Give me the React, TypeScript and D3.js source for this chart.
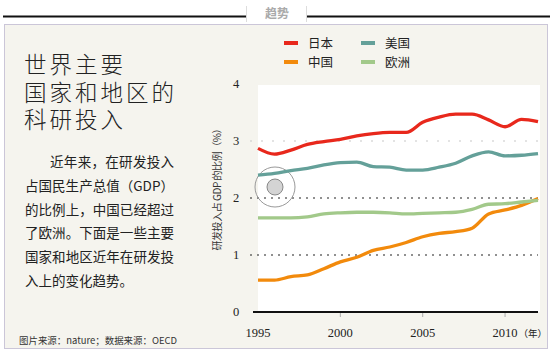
import React from 'react';
import * as d3 from 'd3';

// data
const years = [1995, 1996, 1997, 1998, 1999, 2000, 2001, 2002, 2003, 2004, 2005, 2006, 2007, 2008, 2009, 2010, 2011, 2012];
const japan = [2.87, 2.77, 2.84, 2.94, 2.99, 3.03, 3.09, 3.13, 3.15, 3.15, 3.33, 3.42, 3.47, 3.47, 3.37, 3.25, 3.38, 3.34];
const usa = [2.4, 2.43, 2.48, 2.52, 2.58, 2.62, 2.63, 2.55, 2.54, 2.49, 2.49, 2.54, 2.61, 2.74, 2.81, 2.74, 2.75, 2.78];
const europe = [1.65, 1.65, 1.65, 1.67, 1.72, 1.74, 1.75, 1.75, 1.74, 1.72, 1.73, 1.74, 1.75, 1.8, 1.89, 1.9, 1.93, 1.96];
const china = [0.56, 0.56, 0.62, 0.65, 0.76, 0.88, 0.96, 1.08, 1.14, 1.22, 1.32, 1.38, 1.41, 1.47, 1.72, 1.79, 1.87, 1.99];
const yTicks = [0, 1, 2, 3, 4];
const xTicks = [1995, 2000, 2005, 2010];
const titleLines = ['世界主要', '国家和地区的', '科研投入'];
const bodyLines = ['近年来，在研发投入', '占国民生产总值（GDP）', '的比例上，中国已经超过', '了欧洲。下面是一些主要', '国家和地区近年在研发投', '入上的变化趋势。'];

const series = [
  { name: '日本', values: japan, color: '#e8281c' },
  { name: '美国', values: usa, color: '#64a099' },
  { name: '中国', values: china, color: '#f28a0c' },
  { name: '欧洲', values: europe, color: '#a2c98a' },
];

const CJK = '"Noto Sans CJK SC", sans-serif';
const SERIF = '"Liberation Serif", serif';

export default function App() {
  const x = d3.scaleLinear().domain([1995, 2012]).range([258, 538]);
  const y = d3.scaleLinear().domain([0, 4]).range([312, 84]);
  const line = d3
    .line<number>()
    .x((d, i) => x(years[i]))
    .y((d) => y(d))
    .curve(d3.curveMonotoneX);

  return (
    <svg width={550} height={354} style={{ position: 'absolute', left: 0, top: 0 }}>
      {/* header */}
      <line x1={3} x2={246} y1={16.5} y2={16.5} stroke="#111" strokeWidth={2} />
      <line x1={307} x2={550} y1={16.5} y2={16.5} stroke="#111" strokeWidth={2} />
      <line x1={246.5} x2={246.5} y1={6} y2={22} stroke="#ddd" />
      <line x1={306.5} x2={306.5} y1={6} y2={22} stroke="#ddd" />
      <text x={277} y={18} textAnchor="middle" fontFamily={CJK} fontSize={12} fontWeight="bold" fill="#aaa">
        趋势
      </text>

      {/* box */}
      <rect x={4.5} y={24.5} width={543} height={324} fill="#f5f4ee" stroke="#cbc6d8" />

      {/* title */}
      <text x={24} y={73} fontFamily={CJK} fontSize={22.5} fontWeight={300} letterSpacing={3} fill="#222">
        {titleLines.map((t, i) => (
          <tspan key={t} x={24} dy={i === 0 ? 0 : 27.5}>
            {t}
          </tspan>
        ))}
      </text>

      {/* body */}
      {bodyLines.map((t, i) => (
        <text
          key={t}
          x={i === 0 ? 50 : 25}
          y={167 + i * 23.8}
          fontFamily={CJK}
          fontSize={13.5}
          fill="#222"
          textLength={i === 0 ? 124 : i < 5 ? 149 : undefined}
          lengthAdjust="spacing"
        >
          {t}
        </text>
      ))}

      <text x={19} y={344} fontFamily={CJK} fontSize={9.5} fill="#333" textLength={158} lengthAdjust="spacingAndGlyphs">
        图片来源：nature；数据来源：OECD
      </text>

      {/* legend */}
      {series.map((s, i) => {
        const lx = i % 2 === 0 ? 284 : 361;
        const ly = i < 2 ? 43 : 62;
        return (
          <g key={s.name}>
            <line x1={lx} x2={lx + 14} y1={ly} y2={ly} stroke={s.color} strokeWidth={4} />
            <text x={lx + 24} y={ly} dy="0.36em" fontFamily={CJK} fontSize={12.5} fill="#222">
              {s.name}
            </text>
          </g>
        );
      })}

      {/* plot */}
      <rect x={258} y={85} width={282} height={227} fill="#fff" />
      {[1, 2, 3].map((t) => (
        <line
          key={t}
          x1={250}
          x2={538}
          y1={y(t)}
          y2={y(t)}
          stroke={t === 3 ? '#c8c8c8' : '#222'}
          strokeWidth={1.2}
          strokeDasharray={t === 3 ? '2,9' : '2,5'}
        />
      ))}
      {yTicks.map((t) => (
        <text key={t} x={236} y={y(t)} dy="0.35em" textAnchor="middle" fontFamily={SERIF} fontSize={12.5} fill="#222">
          {t}
        </text>
      ))}
      <text
        transform="translate(221,187) rotate(-90)"
        textAnchor="middle"
        fontFamily={CJK}
        fontSize={10}
        fill="#333"
        textLength={127}
        lengthAdjust="spacing"
      >
        研发投入占 GDP 的比例（%）
      </text>

      {/* decoration */}
      <circle cx={275} cy={187} r={20} fill="none" stroke="#999" strokeWidth={1} />
      <circle cx={275} cy={187} r={8} fill="#d4d4d4" stroke="#888" strokeWidth={1} />

      {series.map((s) => (
        <path key={s.name} d={line(s.values) || ''} fill="none" stroke={s.color} strokeWidth={3.3} />
      ))}

      {/* x axis */}
      <line x1={253} x2={538} y1={312} y2={312} stroke="#111" strokeWidth={2.2} />
      {xTicks.slice(1).map((t) => (
        <line key={t} x1={x(t)} x2={x(t)} y1={313} y2={317} stroke="#aaa" />
      ))}
      {xTicks.map((t) => (
        <text key={t} x={x(t)} y={337} textAnchor="middle" fontFamily={SERIF} fontSize={12.5} fill="#222">
          {t}
        </text>
      ))}
      <text x={x(2010) + 13.5} y={337} fontFamily={CJK} fontSize={9.5} fill="#222">
        （年）
      </text>
    </svg>
  );
}
